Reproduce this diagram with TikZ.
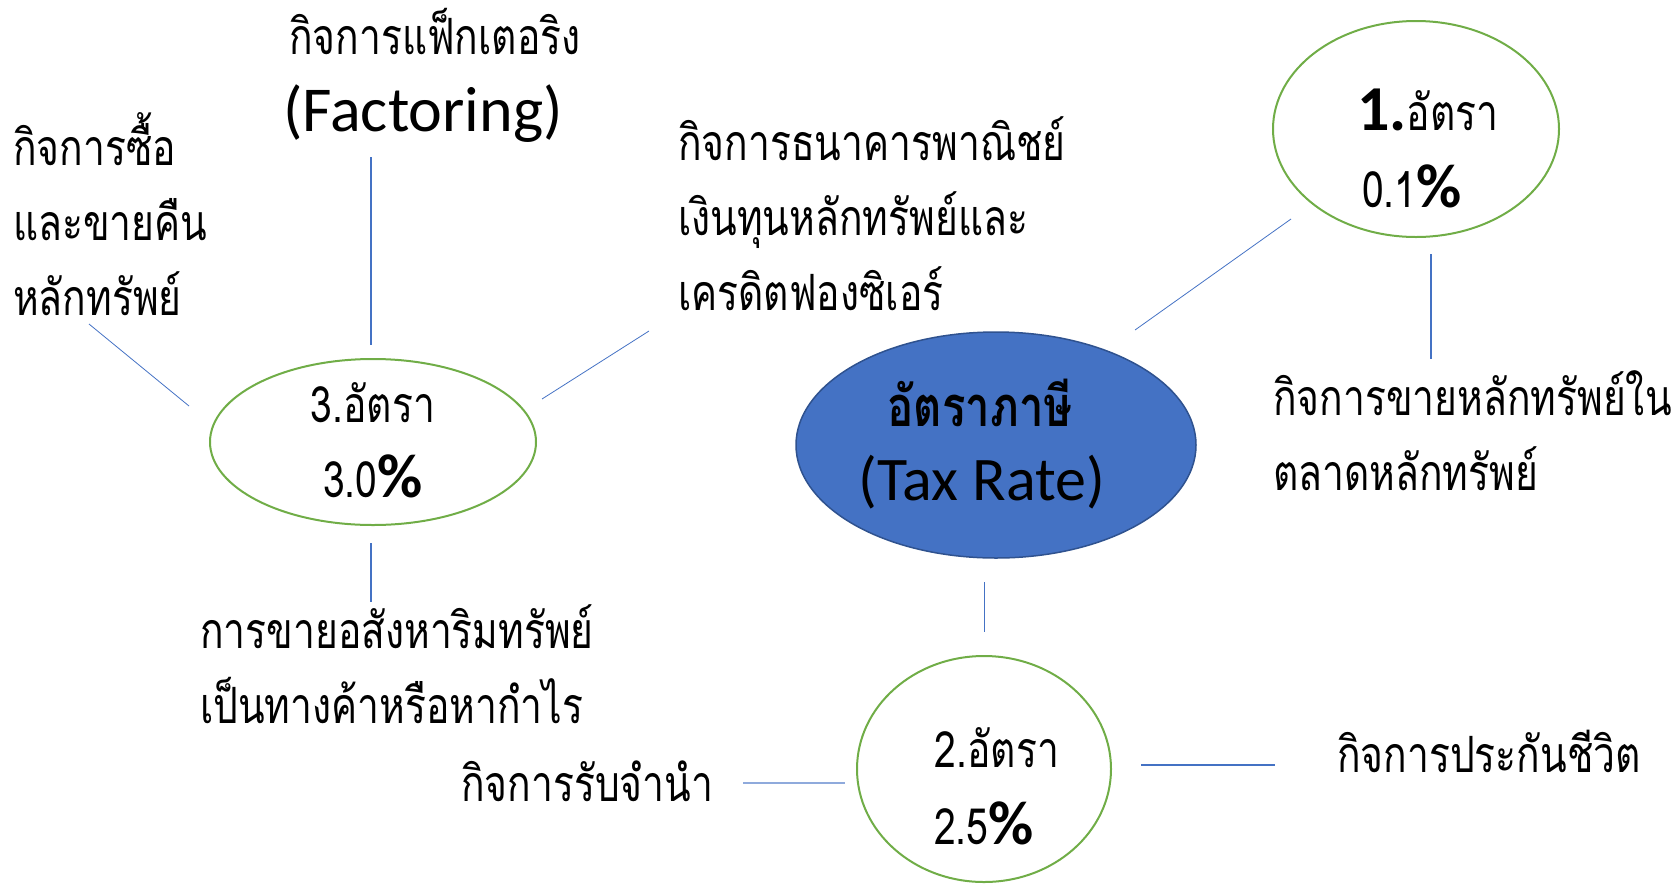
\documentclass[tikz,border=0pt]{standalone}
\usepackage{fontspec}
\setmainfont{Carlito}
\newfontfamily\thaifont[Script=Thai,FakeStretch=0.78]{Loma}
\usetikzlibrary{shapes.geometric}
\definecolor{linkblue}{HTML}{4472C4}
\definecolor{palelink}{HTML}{8FAADC}
\definecolor{ringgreen}{HTML}{70AD47}
\definecolor{taxedge}{HTML}{2F528F}
\newcommand{\bigpct}{{\rmfamily\bfseries\fontsize{62}{62}\selectfont\%}}

\begin{document}
\begin{tikzpicture}[x=1pt,y=-1pt,
	thai/.style={font=\thaifont\fontsize{50}{75}\selectfont,inner sep=0pt,align=left},
	ring/.style={ellipse,draw=ringgreen,line width=2pt,inner sep=0pt},
	link/.style={draw=linkblue,line width=1.2pt}]
	\useasboundingbox (0,0) rectangle (1680,884);
	% the four circles
	\node[ellipse,fill=linkblue,draw=taxedge,line width=1.5pt,minimum width=400pt,minimum height=226pt] (tax) at (996,445) {};
	\node[ring,minimum width=326pt,minimum height=166pt] (r3) at (373,442) {};
	\node[ring,minimum width=286pt,minimum height=216pt] (r1) at (1416,129) {};
	\node[ring,minimum width=254pt,minimum height=226pt] (r2) at (984,769) {};
	% texts in the circles
	\node[thai,font=\thaifont\bfseries\fontsize{56}{75}\selectfont] (taxth) at (980,403) {อัตราภาษี};
	\node[inner sep=0pt,font=\fontsize{62}{62}\selectfont] (taxen) at (982,482) {(Tax Rate)};
	\node[thai] (r3a) at (373,403) {3.อัตรา};
	\node[thai] (r3b) at (373,476) {3.0\bigpct};
	\node[thai] (r1a) at (1428,110) {{\rmfamily\bfseries\fontsize{64}{64}\selectfont 1.}อัตรา};
	\node[thai] (r1b) at (1412,186) {0.1\bigpct};
	\node[thai] (r2a) at (997,748) {2.อัตรา};
	\node[thai] (r2b) at (984,823) {2.5\bigpct};
	% business labels
	\node[thai,anchor=west] (fact) at (289,32) {กิจการแฟ็กเตอริง};
	\node[inner sep=0pt,font=\fontsize{64}{64}\selectfont] (facten) at (423,114) {(Factoring)};
	\node[thai,anchor=west] (repo) at (13,214) {กิจการซื้อ\\และขายคืน\\หลักทรัพย์};
	\node[thai,anchor=west] (bank) at (678,214) {กิจการธนาคารพาณิชย์\\เงินทุนหลักทรัพย์และ\\เครดิตฟองซิเอร์};
	\node[thai,anchor=west] (market) at (1273,431) {กิจการขายหลักทรัพย์ใน\\ตลาดหลักทรัพย์};
	\node[thai,anchor=west] (estate) at (200,664) {การขายอสังหาริมทรัพย์\\เป็นทางค้าหรือหากำไร};
	\node[thai,anchor=west] (pawn) at (461,781) {กิจการรับจำนำ};
	\node[thai,anchor=west] (life) at (1337,751) {กิจการประกันชีวิต};
	% line ends
	\coordinate (f1) at (371,157); \coordinate (f2) at (371,345);
	\coordinate (p1) at (89,324); \coordinate (p2) at (189,406);
	\coordinate (b1) at (542,399); \coordinate (b2) at (649,331);
	\coordinate (e1) at (371,543); \coordinate (e2) at (371,602);
	\coordinate (t1) at (1135,330); \coordinate (t2) at (1291,219);
	\coordinate (m1) at (1431,254); \coordinate (m2) at (1431,359);
	\coordinate (d1) at (984,582); \coordinate (d2) at (984,632);
	\coordinate (n1) at (743,783); \coordinate (n2) at (845,783);
	\coordinate (l1) at (1141,765); \coordinate (l2) at (1275,765);
	\draw[link] (f1) -- (f2);
	\draw[link,line width=0.8pt] (p1) -- (p2);
	\draw[link,line width=0.8pt] (b1) -- (b2);
	\draw[link] (e1) -- (e2);
	\draw[link,line width=0.8pt] (t1) -- (t2);
	\draw[link] (m1) -- (m2);
	\draw[link,line width=0.8pt] (d1) -- (d2);
	\draw[draw=palelink,line width=2.5pt] (n1) -- (n2);
	\draw[link] (l1) -- (l2);
\end{tikzpicture}
\end{document}
